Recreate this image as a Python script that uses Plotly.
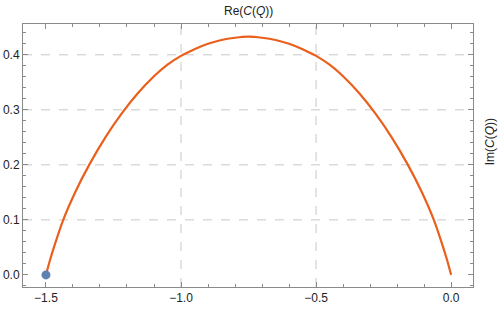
import plotly.graph_objects as go

# Curve (Re(C(Q)), Im(C(Q)))
re_vals = [-1.5, -1.485, -1.470, -1.436, -1.39, -1.34, -1.28, -1.22, -1.16, -1.10,
           -1.05, -1.0, -0.95, -0.90, -0.85, -0.80, -0.75, -0.70, -0.65, -0.60,
           -0.55, -0.50, -0.45, -0.40, -0.34, -0.28, -0.22, -0.16, -0.11, -0.064,
           -0.03, -0.015, 0.0]
im_vals = [0.0, 0.027, 0.051, 0.100, 0.152, 0.200, 0.250, 0.293, 0.330, 0.361,
           0.382, 0.398, 0.410, 0.420, 0.427, 0.431, 0.433, 0.431, 0.427, 0.420,
           0.410, 0.398, 0.382, 0.361, 0.330, 0.293, 0.250, 0.200, 0.152, 0.100,
           0.051, 0.027, 0.0]

start_point_x = [-1.5]
start_point_y = [0.0]

x_ticks = [-1.5, -1.0, -0.5, 0.0]
x_tick_labels = ["\u22121.5", "\u22121.0", "\u22120.5", "0.0"]
y_ticks = [0.0, 0.1, 0.2, 0.3, 0.4]
y_tick_labels = ["0.0", "0.1", "0.2", "0.3", "0.4"]

x_grid = [-1.0, -0.5]
y_grid = [0.1, 0.2, 0.3, 0.4]

LINE = "#E8601C"
DOT = "#5E81B5"
FRAME = "#8a8a8a"
GRID = "#c8c8c8"
FONT = "Liberation Sans, Arial, sans-serif"

fig = go.Figure()
fig.add_trace(go.Scatter(x=re_vals, y=im_vals, mode="lines",
                         line=dict(color=LINE, width=2.2, shape="spline", smoothing=0.6),
                         hoverinfo="skip"))
fig.add_trace(go.Scatter(x=start_point_x, y=start_point_y, mode="markers",
                         marker=dict(color=DOT, size=9), hoverinfo="skip"))

shapes = []
for gx in x_grid:
    shapes.append(dict(type="line", xref="x", yref="paper", x0=gx, x1=gx, y0=0, y1=1,
                       line=dict(color=GRID, width=1, dash="dash"), layer="below"))
for gy in y_grid:
    shapes.append(dict(type="line", xref="paper", yref="y", x0=0, x1=1, y0=gy, y1=gy,
                       line=dict(color=GRID, width=1, dash="dash"), layer="below"))

axis_common = dict(showline=True, linecolor=FRAME, linewidth=1, mirror="allticks",
                   ticks="inside", ticklen=5, tickcolor=FRAME, tickwidth=1,
                   showgrid=False, zeroline=False, automargin=False,
                   tickfont=dict(family=FONT, size=12, color="#222"))

fig.update_layout(
    width=498, height=309,
    margin=dict(l=23, r=25, t=24, b=22),
    paper_bgcolor="white", plot_bgcolor="white",
    showlegend=False,
    hovermode=False,
    shapes=shapes,
    xaxis=dict(range=[-1.585, 0.081], tickvals=x_ticks, ticktext=x_tick_labels,
               minor=dict(dtick=0.1, tick0=0, ticks="inside", ticklen=3, tickcolor=FRAME),
               **axis_common),
    yaxis=dict(range=[-0.022, 0.456], tickvals=y_ticks, ticktext=y_tick_labels,
               minor=dict(dtick=0.02, tick0=0, ticks="inside", ticklen=3, tickcolor=FRAME),
               **axis_common),
    annotations=[
        dict(text="Re(<i>C</i>(<i>Q</i>))", xref="paper", yref="paper", x=0.5, y=1,
             yshift=4, xanchor="center", yanchor="bottom", showarrow=False,
             font=dict(family=FONT, size=12, color="#222")),
        dict(text="Im(<i>C</i>(<i>Q</i>))", xref="paper", yref="paper", x=1, y=0.55,
             xshift=17, xanchor="center", yanchor="middle", textangle=-90, showarrow=False,
             font=dict(family=FONT, size=12, color="#222")),
    ],
)

fig.write_html("out.html", config={"displayModeBar": False},
               post_script="document.body.style.margin='0';document.body.style.overflow='hidden';")
